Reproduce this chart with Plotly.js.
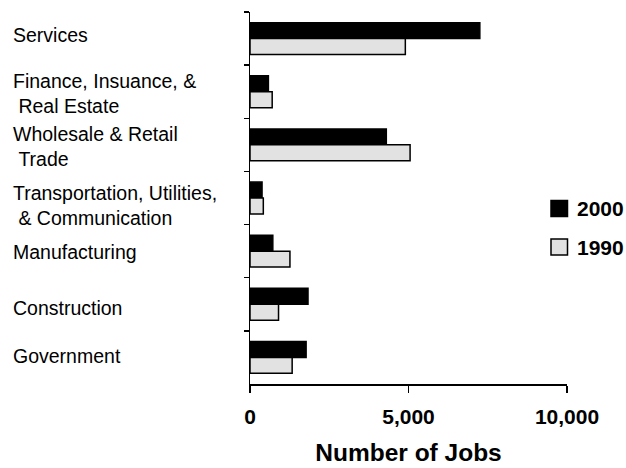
<!DOCTYPE html>
<html>
<head>
<meta charset="utf-8">
<script src="https://cdn.plot.ly/plotly-3.0.1.min.js"></script>
<style>html,body{margin:0;padding:0;background:#fff;}#chart{width:626px;height:468px;}</style>
</head>
<body>
<div id="chart"></div>
<script>
// Data
const categories = [
  "Services",
  "Finance, Insuance, &<br>\u00a0Real Estate",
  "Wholesale & Retail<br>\u00a0Trade",
  "Transportation, Utilities,<br>\u00a0& Communication",
  "Manufacturing",
  "Construction",
  "Government"
];
const seriesNames = ["2000", "1990"];
const seriesColors = ["#000000", "#e2e2e2"];
const jobs2000 = [7250, 580, 4300, 380, 720, 1830, 1770];
const jobs1990 = [4900, 700, 5050, 420, 1260, 900, 1330];
const xTickVals = [0, 5000, 10000];
const xTickText = ["0", "5,000", "10,000"];

// Layout-only tweaks (vertical nudge of the category labels, in px)
const labelYShift = [4, -1.5, -1.5, -7, -1, -4, 1];

const W = 626, H = 468;
const mL = 250, mR = 59, mT = 12, mB = 84;
const plotW = W - mL - mR;
const plotH = H - mT - mB;
const FONT = "Liberation Sans, Arial, sans-serif";

const seriesValues = [jobs2000, jobs1990];
const traces = seriesNames.map((n, i) => ({
  type: "bar", orientation: "h", name: n,
  x: seriesValues[i], y: categories,
  marker: {color: seriesColors[i], line: {color: "#000000", width: 1.5}},
  hoverinfo: "x+name", showlegend: false
}));

const px2x = px => (px - mL) / plotW;
const px2y = py => (H - mB - py) / plotH;

const labelFont = {family: FONT, size: 19.5, color: "#000"};
const annotations = categories.map((c, i) => ({
  xref: "paper", yref: "y", x: px2x(11), y: c, yshift: labelYShift[i],
  xanchor: "left", yanchor: "middle", align: "left",
  text: c, showarrow: false, font: labelFont
}));

// manual legend (larger square swatches like the reference)
const legendRowsY = [208.5, 247];
const shapes = [];
seriesNames.forEach((n, i) => {
  const cy = legendRowsY[i];
  shapes.push({
    type: "rect", xref: "paper", yref: "paper",
    x0: px2x(551), x1: px2x(567.5), y0: px2y(cy - 8), y1: px2y(cy + 8),
    fillcolor: seriesColors[i], line: {color: "#000", width: 1.5}
  });
  annotations.push({
    xref: "paper", yref: "paper", x: px2x(575), y: px2y(cy),
    xanchor: "left", yanchor: "middle", showarrow: false,
    text: "<b>" + n + "</b>", font: {family: FONT, size: 21, color: "#000"}
  });
});

const layout = {
  width: W, height: H,
  margin: {l: mL, r: mR, t: mT, b: mB},
  paper_bgcolor: "#fff", plot_bgcolor: "#fff",
  barmode: "group", bargap: 0.4, bargroupgap: 0,
  font: {family: FONT, color: "#000"},
  showlegend: false,
  xaxis: {
    range: [0, 10000], tickvals: xTickVals, ticktext: xTickText,
    showgrid: false, zeroline: false,
    showline: true, linecolor: "#000", linewidth: 1.5,
    ticks: "outside", ticklen: 7, tickwidth: 1.5, tickcolor: "#000",
    ticklabelstandoff: 6,
    tickfont: {family: FONT, size: 21, color: "#000", weight: "bold"},
    title: {text: "<b>Number of Jobs</b>", font: {family: FONT, size: 24.5, color: "#000"}, standoff: 17},
    fixedrange: true
  },
  yaxis: {
    type: "category", autorange: "reversed",
    showgrid: false, zeroline: false, showticklabels: false,
    showline: true, linecolor: "#000", linewidth: 1.5,
    ticks: "outside", ticklen: 5, tickwidth: 1.5, tickcolor: "#000",
    tickson: "boundaries",
    fixedrange: true
  },
  shapes: shapes,
  annotations: annotations
};

Plotly.newPlot("chart", traces, layout, {displayModeBar: false, staticPlot: true});
</script>
</body>
</html>
